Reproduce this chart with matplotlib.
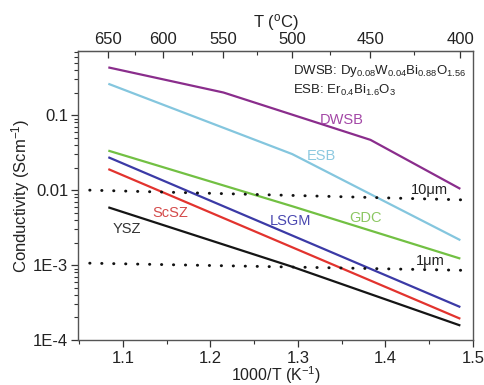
import numpy as np
import matplotlib
matplotlib.use("Agg")
import matplotlib.pyplot as plt
from matplotlib.ticker import FixedLocator, NullFormatter, LogLocator

plt.rcParams['font.family'] = ['Liberation Sans', 'DejaVu Sans']
plt.rcParams['mathtext.fontset'] = 'custom'
plt.rcParams['mathtext.rm'] = 'Liberation Sans'
plt.rcParams['mathtext.it'] = 'Liberation Sans:italic'
plt.rcParams['mathtext.bf'] = 'Liberation Sans:bold'

# ---- data (temperature in °C, conductivity in S/cm) ----
dwsb_T = [650, 550, 450, 400]
dwsb_s = [0.435, 0.201, 0.0469, 0.0104]
esb_T = [650, 500, 400]
esb_s = [0.263, 0.0303, 0.00215]
gdc_T = [650, 500, 400]
gdc_s = [0.0337, 0.0061, 0.00122]
lsgm_T = [650, 400]
lsgm_s = [0.0275, 0.000275]
scsz_T = [650, 400]
scsz_s = [0.0191, 0.000192]
ysz_T = [650, 500, 400]
ysz_s = [0.0059, 0.00095, 0.000156]

# thickness reference lines (1000/T, sigma)
ref_x = [1.062, 1.492]
ref10_s = [0.0100, 0.00740]
ref1_s = [0.00106, 0.00085]

top_ticks = [650, 600, 550, 500, 450, 400]
top_minor = [625, 575, 525, 475, 425]
x_ticks = [1.1, 1.2, 1.3, 1.4, 1.5]
y_ticks = [1e-4, 1e-3, 1e-2, 1e-1]
y_labels = ['1E-4', '1E-3', '0.01', '0.1']


def inv(T):
    return 1000.0 / (np.asarray(T, dtype=float) + 273.15)


fig = plt.figure(figsize=(4.84, 3.85), dpi=100)
ax = fig.add_axes([78 / 484, 1 - 340 / 385, 395 / 484, 289 / 385])

series = [
    (dwsb_T, dwsb_s, '#8a2d8c'),
    (esb_T, esb_s, '#84c6de'),
    (gdc_T, gdc_s, '#72c043'),
    (lsgm_T, lsgm_s, '#3b3aa6'),
    (scsz_T, scsz_s, '#e2332e'),
    (ysz_T, ysz_s, '#151515'),
]
for T, s, c in series:
    ax.plot(inv(T), s, color=c, lw=1.6, solid_capstyle='butt')

for s in (ref10_s, ref1_s):
    ax.plot(ref_x, s, color='#111111', lw=2.1, linestyle=(0, (0.1, 4.0)),
            dash_capstyle='round')

ax.set_yscale('log')
ax.set_xlim(1.0486, 1.5)
ax.set_ylim(1e-4, 0.72)

ax.set_xticks(x_ticks)
ax.set_xticklabels(['1.1', '1.2', '1.3', '1.4', '1.5'])
ax.xaxis.set_minor_locator(FixedLocator([1.05, 1.15, 1.25, 1.35, 1.45]))
ax.set_yticks(y_ticks)
ax.set_yticklabels(y_labels)
ax.yaxis.set_minor_locator(LogLocator(base=10, subs=np.arange(2, 10)))
ax.yaxis.set_minor_formatter(NullFormatter())

ax.tick_params(axis='both', which='major', direction='out', length=5,
               width=0.9, labelsize=12, colors='#333333', labelcolor='#222222')
ax.tick_params(axis='both', which='minor', direction='out', length=3,
               width=0.8, colors='#333333')
ax.tick_params(axis='x', top=False, pad=3)
ax.tick_params(axis='y', right=False, pad=2)
for sp in ax.spines.values():
    sp.set_color('#555555')
    sp.set_linewidth(1.0)

ax.set_xlabel('1000/T (K$^{-1}$)', fontsize=11.5, color='#222222', labelpad=-1)
ax.set_ylabel('Conductivity (Scm$^{-1}$)', fontsize=12, color='#222222', labelpad=1)

with np.errstate(divide='ignore'):
    sec = ax.secondary_xaxis('top', functions=(lambda x: 1000.0 / x - 273.15,
                                               lambda t: 1000.0 / (t + 273.15)))
sec.set_xticks(top_ticks)
sec.set_xticklabels([str(t) for t in top_ticks])
sec.xaxis.set_minor_locator(FixedLocator(top_minor))
sec.tick_params(which='major', direction='in', length=5, width=0.9,
                labelsize=12, colors='#333333', labelcolor='#222222', pad=3)
sec.tick_params(which='minor', direction='in', length=3, width=0.8, colors='#333333')
sec.set_xlabel('T ($^{\\rm o}$C)', fontsize=12, color='#222222', labelpad=3)
sec.spines['top'].set_color('#555555')

# labels
lab_kw = dict(fontsize=10.5, ha='center', va='center')
ax.text(1.3503, 0.0868, 'DWSB', color='#a347a6', **lab_kw)
ax.text(1.3263, 0.0286, 'ESB', color='#8cc9e0', **lab_kw)
ax.text(1.4497, 0.0100, '10μm', color='#222222', **lab_kw)
ax.text(1.3766, 0.00423, 'GDC', color='#8cc762', **lab_kw)
ax.text(1.292, 0.00386, 'LSGM', color='#4a48b0', **lab_kw)
ax.text(1.4509, 0.00112, '1μm', color='#222222', **lab_kw)
ax.text(1.1537, 0.00494, 'ScSZ', color='#d44a4a', **lab_kw)
ax.text(1.1046, 0.00301, 'YSZ', color='#333333', **lab_kw)

ax.text(1.2943, 0.393, 'DWSB: Dy$_{0.08}$W$_{0.04}$Bi$_{0.88}$O$_{1.56}$',
        fontsize=9.5, color='#222222', ha='left', va='center')
ax.text(1.2943, 0.212, 'ESB: Er$_{0.4}$Bi$_{1.6}$O$_{3}$',
        fontsize=9.5, color='#222222', ha='left', va='center')

fig.savefig('out.png', dpi=100)
